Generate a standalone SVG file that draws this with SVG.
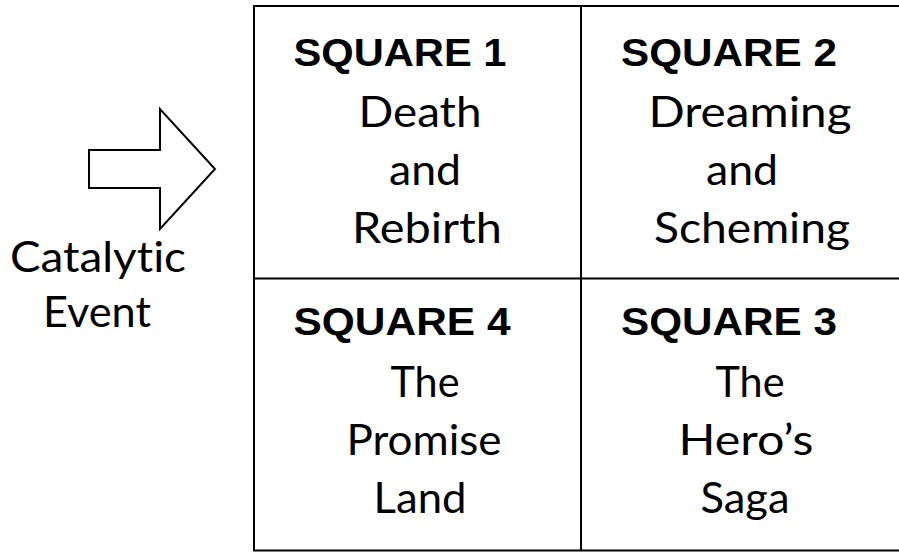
<svg xmlns="http://www.w3.org/2000/svg" width="899" height="552" viewBox="0 0 899 552">
<style>
.t{font-family:Lato,"Noto Sans","Liberation Sans",sans-serif;font-size:43px;fill:#000;text-anchor:middle;font-variant-ligatures:none}
.h{font-family:"Liberation Sans",Arial,sans-serif;font-weight:bold;font-size:39px;fill:#000;text-anchor:middle}
.ln{fill:none;stroke:#000;stroke-width:2}
</style>
<rect width="899" height="552" fill="#fff"/>
<g id="grid">
<rect class="ln" x="254" y="6" width="700" height="544.5"/>
<line class="ln" x1="581" y1="6" x2="581" y2="550.5"/>
<line class="ln" x1="254" y1="278.5" x2="954" y2="278.5"/>
</g>
<g id="arrow">
<polygon class="ln" fill="#fff" points="89,150 160,150 160,109 215,169 160,229 160,188 89,188"/>
</g>
<g id="label-catalytic">
<text class="t" x="98" y="272" textLength="176" lengthAdjust="spacingAndGlyphs">Catalytic</text>
<text class="t" x="97" y="327" textLength="108" lengthAdjust="spacingAndGlyphs">Event</text>
</g>
<g id="square1">
<text class="h" x="400" y="66" textLength="213" lengthAdjust="spacingAndGlyphs">SQUARE 1</text>
<text class="t" x="420" y="127" textLength="123" lengthAdjust="spacingAndGlyphs">Death</text>
<text class="t" x="425" y="185" textLength="72" lengthAdjust="spacingAndGlyphs">and</text>
<text class="t" x="427" y="243" textLength="150" lengthAdjust="spacingAndGlyphs">Rebirth</text>
</g>
<g id="square2">
<text class="h" x="729" y="66" textLength="216" lengthAdjust="spacingAndGlyphs">SQUARE 2</text>
<text class="t" x="750" y="127" textLength="203" lengthAdjust="spacingAndGlyphs">Dreaming</text>
<text class="t" x="742" y="185" textLength="72" lengthAdjust="spacingAndGlyphs">and</text>
<text class="t" x="752" y="243" textLength="196" lengthAdjust="spacingAndGlyphs">Scheming</text>
</g>
<g id="square4">
<text class="h" x="402" y="335" textLength="217" lengthAdjust="spacingAndGlyphs">SQUARE 4</text>
<text class="t" x="425" y="397" textLength="69" lengthAdjust="spacingAndGlyphs">The</text>
<text class="t" x="424" y="455" textLength="155" lengthAdjust="spacingAndGlyphs">Promise</text>
<text class="t" x="420" y="513" textLength="93" lengthAdjust="spacingAndGlyphs">Land</text>
</g>
<g id="square3">
<text class="h" x="729" y="335" textLength="216" lengthAdjust="spacingAndGlyphs">SQUARE 3</text>
<text class="t" x="750" y="397" textLength="69" lengthAdjust="spacingAndGlyphs">The</text>
<text class="t" x="746" y="455" textLength="135" lengthAdjust="spacingAndGlyphs">Hero’s</text>
<text class="t" x="745" y="513" textLength="89" lengthAdjust="spacingAndGlyphs">Saga</text>
</g>
</svg>
